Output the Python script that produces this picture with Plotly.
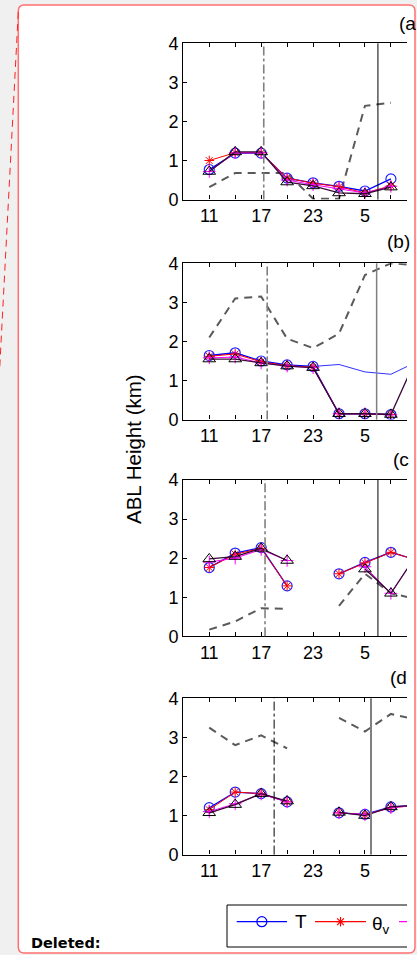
import plotly.graph_objects as go

# ---------------- data ----------------
hours = [11, 14, 17, 20, 23, 26, 29, 32, 35]
x_tick_vals = [11, 14, 17, 20, 23, 26, 29, 32]
x_tick_text = ["11", "", "17", "", "23", "", "5", ""]
y_tick_vals = [0, 1, 2, 3, 4]
panel_labels = ["(a", "(b)", "(c", "(d"]

a_T    = [0.77, 1.19, 1.19, 0.55, 0.43, 0.34, 0.22, 0.53, None]
a_thv  = [1.00, 1.20, 1.20, 0.55, 0.42, 0.33, 0.17, 0.35, None]
a_mag  = [0.72, 1.20, 1.20, 0.50, 0.38, 0.28, 0.17, 0.34, None]
a_tri  = [0.72, 1.22, 1.22, 0.45, 0.35, 0.17, 0.15, 0.32, None]
a_dash = [0.32, 0.68, 0.68, 0.68, 0.02, 0.02, 2.40, 2.48, None]
a_thin = [None] * 9

b_T    = [1.64, 1.71, 1.50, 1.40, 1.36, 0.15, 0.15, 0.13, None]
b_thv  = [1.62, 1.68, 1.48, 1.38, 1.34, 0.15, 0.15, 0.13, None]
b_mag  = [1.58, 1.60, 1.45, 1.37, 1.33, 0.15, 0.15, 0.12, None]
b_tri  = [1.55, 1.55, 1.45, 1.37, 1.33, 0.15, 0.15, 0.13, 1.60]
b_dash = [2.10, 3.10, 3.15, 2.07, 1.83, 2.20, 3.70, 4.00, 3.95]
b_thin = [None, None, None, None, 1.36, 1.41, 1.22, 1.16, 1.48]

c_T    = [1.76, 2.13, 2.27, 1.29, None, 1.60, 1.89, 2.15, 1.95]
c_thv  = [1.76, 2.10, 2.25, 1.29, None, 1.60, 1.88, 2.15, 1.95]
c_mag  = [1.90, 2.00, 2.22, 1.94, None, None, 1.78, 1.10, 2.10]
c_tri  = [1.98, 2.04, 2.25, 1.94, None, None, 1.72, 1.10, 2.10]
c_dash = [0.17, 0.38, 0.72, 0.70, None, 0.78, 1.60, 1.10, 0.95]
c_thin = [None] * 9

d_T    = [1.20, 1.60, 1.56, 1.35, None, 1.07, 1.03, 1.22, 1.26]
d_thv  = [1.15, 1.60, 1.56, 1.35, None, 1.07, 1.02, 1.20, 1.26]
d_mag  = [1.10, 1.30, 1.55, 1.35, None, 1.07, 1.02, 1.20, 1.26]
d_tri  = [1.07, 1.28, 1.56, 1.37, None, 1.08, 1.00, 1.22, 1.26]
d_dash = [3.25, 2.80, 3.05, 2.72, None, 3.50, 3.15, 3.60, 3.45]
d_thin = [None] * 9

dashdot_times = [17.3, 17.7, 17.45, 18.5]
solid_times = [30.5, 30.35, 30.5, 29.7]

panels = [
    (a_T, a_thv, a_mag, a_tri, a_dash, a_thin),
    (b_T, b_thv, b_mag, b_tri, b_dash, b_thin),
    (c_T, c_thv, c_mag, c_tri, c_dash, c_thin),
    (d_T, d_thv, d_mag, d_tri, d_dash, d_thin),
]

# ---------------- layout helpers ----------------
W, H = 417, 955
def fx(px):
    return px / W
def fy(py):
    return 1 - py / H

FONT = "Liberation Sans, Arial, Helvetica, sans-serif"
x_left, x_right = 183.3, 407.0
panel_tops = [43.3, 263.3, 480.0, 698.3]
panel_h = 156.3

fig = go.Figure()

for i, (T, thv, mag, tri, dash, thin) in enumerate(panels):
    n = i + 1
    xa = "x" if n == 1 else f"x{n}"
    ya = "y" if n == 1 else f"y{n}"
    common = dict(xaxis=xa, yaxis=ya, showlegend=False, connectgaps=False, hoverinfo="skip")
    fig.add_trace(go.Scatter(x=hours, y=dash, mode="lines",
                             line=dict(color="#5a5a5a", width=2, dash="8px,6px"), **common))
    fig.add_trace(go.Scatter(x=hours, y=thin, mode="lines",
                             line=dict(color="#3030ff", width=1), **common))
    fig.add_trace(go.Scatter(x=hours, y=T, mode="lines+markers",
                             line=dict(color="#0000ff", width=1.3),
                             marker=dict(symbol="circle-open", size=10, color="#2020ff",
                                         line=dict(width=1.2)), **common))
    fig.add_trace(go.Scatter(x=hours, y=thv, mode="lines+markers",
                             line=dict(color="#ff0000", width=1),
                             marker=dict(symbol="asterisk-open", size=8, color="#ff0000",
                                         line=dict(width=1)), **common))
    fig.add_trace(go.Scatter(x=hours, y=mag, mode="lines+markers",
                             line=dict(color="#ff00ff", width=1),
                             marker=dict(symbol="cross-thin-open", size=9, color="#ff00ff",
                                         line=dict(width=1)), **common))
    fig.add_trace(go.Scatter(x=hours, y=tri, mode="lines+markers",
                             line=dict(color="#3a0a36", width=1.3),
                             marker=dict(symbol="triangle-up-open", size=11, color="#000000",
                                         line=dict(width=1)), **common))

    top = panel_tops[i]
    xkey = "xaxis" if n == 1 else f"xaxis{n}"
    ykey = "yaxis" if n == 1 else f"yaxis{n}"
    fig.update_layout(**{
        xkey: dict(domain=[fx(x_left), fx(x_right)], range=[8, 33.86], anchor=ya,
                   tickmode="array", tickvals=x_tick_vals, ticktext=x_tick_text,
                   ticks="inside", ticklen=4, tickcolor="black", tickwidth=1,
                   showline=True, linecolor="black", linewidth=1.3, mirror="ticks",
                   showgrid=False, zeroline=False, automargin=False,
                   tickfont=dict(family=FONT, size=18, color="black")),
        ykey: dict(domain=[fy(top + panel_h), fy(top)], range=[0, 4], anchor=xa,
                   tickmode="array", tickvals=y_tick_vals,
                   ticks="inside", ticklen=4, tickcolor="black", tickwidth=1,
                   showline=True, linecolor="black", linewidth=1.2, mirror=False,
                   showgrid=False, zeroline=False, automargin=False,
                   tickfont=dict(family=FONT, size=18, color="black")),
    })

    # event lines
    dd_color = "#000000" if n == 4 else "#808080"
    dd_width = 1 if n == 4 else 1.6
    fig.add_shape(type="line", xref=xa, yref=f"{ya} domain", x0=dashdot_times[i], x1=dashdot_times[i],
                  y0=0, y1=1, line=dict(color=dd_color, width=dd_width, dash="dashdot"))
    s_color = "#808080" if n in (2, 4) else "#000000"
    s_width = 2 if n == 4 else (1.5 if n == 2 else 1)
    fig.add_shape(type="line", xref=xa, yref=f"{ya} domain", x0=solid_times[i], x1=solid_times[i],
                  y0=0, y1=1, line=dict(color=s_color, width=s_width))

# panel labels
label_pos = [(396.5, 23), (384.5, 242), (390.5, 459), (388, 677)]
for lab, (px, py) in zip(panel_labels, label_pos):
    fig.add_annotation(x=fx(px), y=fy(py), xref="paper", yref="paper", text=lab,
                       showarrow=False, xanchor="left", yanchor="middle",
                       font=dict(family=FONT, size=19, color="black"))

# y title
fig.add_annotation(x=fx(133), y=fy(449), xref="paper", yref="paper", text="ABL Height (km)",
                   showarrow=False, textangle=-90, xanchor="center", yanchor="middle",
                   font=dict(family=FONT, size=20.5, color="black"))

# "Deleted:" tag
fig.add_annotation(x=fx(29), y=fy(943), xref="paper", yref="paper", text="<b>Deleted:</b>",
                   showarrow=False, xanchor="left", yanchor="middle",
                   font=dict(family="DejaVu Sans, sans-serif", size=14.5, color="black"))

# ---------------- legend (clipped, like the reference) ----------------
leg_left, leg_right, leg_top, leg_bot = 227, 407, 905, 947
fig.update_layout(
    xaxis5=dict(domain=[fx(leg_left), fx(leg_right)], range=[leg_left, leg_right], visible=False,
                anchor="y5", fixedrange=True),
    yaxis5=dict(domain=[fy(leg_bot), fy(leg_top)], range=[leg_bot, leg_top], visible=False,
                anchor="x5", fixedrange=True),
)
leg_y = 921.7
legend_items = [
    ("#0000ff", "circle-open", 10, 236.7, 287.0),
    ("#ff0000", "asterisk-open", 8, 315.0, 366.0),
    ("#ff00ff", "cross-thin-open", 9, 399.0, 450.0),
]
for color, sym, size, x0, x1 in legend_items:
    fig.add_trace(go.Scatter(x=[x0, x1], y=[leg_y, leg_y], mode="lines", xaxis="x5", yaxis="y5",
                             line=dict(color=color, width=1.2), showlegend=False, hoverinfo="skip"))
    fig.add_trace(go.Scatter(x=[(x0 + x1) / 2], y=[leg_y], mode="markers", xaxis="x5", yaxis="y5",
                             marker=dict(symbol=sym, size=size, color=color, line=dict(width=1.2)),
                             showlegend=False, hoverinfo="skip"))
fig.add_annotation(x=fx(293), y=fy(921), xref="paper", yref="paper", text="T",
                   showarrow=False, xanchor="left", yanchor="middle",
                   font=dict(family=FONT, size=19, color="black"))
fig.add_annotation(x=fx(370), y=fy(925), xref="paper", yref="paper", text="θ<sub>v</sub>",
                   showarrow=False, xanchor="left", yanchor="middle",
                   font=dict(family=FONT, size=19, color="black"))

shapes_paper = [
    # legend frame (right side clipped)
    dict(x0=leg_left, y0=leg_top, x1=leg_right, y1=leg_top),
    dict(x0=leg_left, y0=leg_bot, x1=leg_right, y1=leg_bot),
    dict(x0=leg_left, y0=leg_top, x1=leg_left, y1=leg_bot),
]
for s in shapes_paper:
    fig.add_shape(type="line", xref="paper", yref="paper", x0=fx(s["x0"]), x1=fx(s["x1"]),
                  y0=fy(s["y0"]), y1=fy(s["y1"]), line=dict(color="black", width=1))

# comment balloon: white rounded box with red border
L, R, Tp, B, r = 18.3, 415.0, 5.0, 953.0, 6.0
path = (f"M {fx(L + r)},{fy(Tp)} L {fx(R - r)},{fy(Tp)} Q {fx(R)},{fy(Tp)} {fx(R)},{fy(Tp + r)} "
        f"L {fx(R)},{fy(B - r)} Q {fx(R)},{fy(B)} {fx(R - r)},{fy(B)} "
        f"L {fx(L + r)},{fy(B)} Q {fx(L)},{fy(B)} {fx(L)},{fy(B - r)} "
        f"L {fx(L)},{fy(Tp + r)} Q {fx(L)},{fy(Tp)} {fx(L + r)},{fy(Tp)} Z")
fig.add_shape(type="path", xref="paper", yref="paper", path=path, layer="below",
              fillcolor="white", line=dict(color="#ff7070", width=1.5))
# dashed connector line
fig.add_shape(type="line", xref="paper", yref="paper", x0=fx(18.3), y0=fy(12), x1=fx(-0.5), y1=fy(372),
              layer="below", line=dict(color="#ff2020", width=1, dash="7px,5px"))

fig.update_layout(width=W, height=H, margin=dict(l=0, r=0, t=0, b=0, pad=0, autoexpand=False),
                  paper_bgcolor="#f0f0f0", plot_bgcolor="rgba(0,0,0,0)",
                  showlegend=False, font=dict(family=FONT))

fig.write_html("out.html")
